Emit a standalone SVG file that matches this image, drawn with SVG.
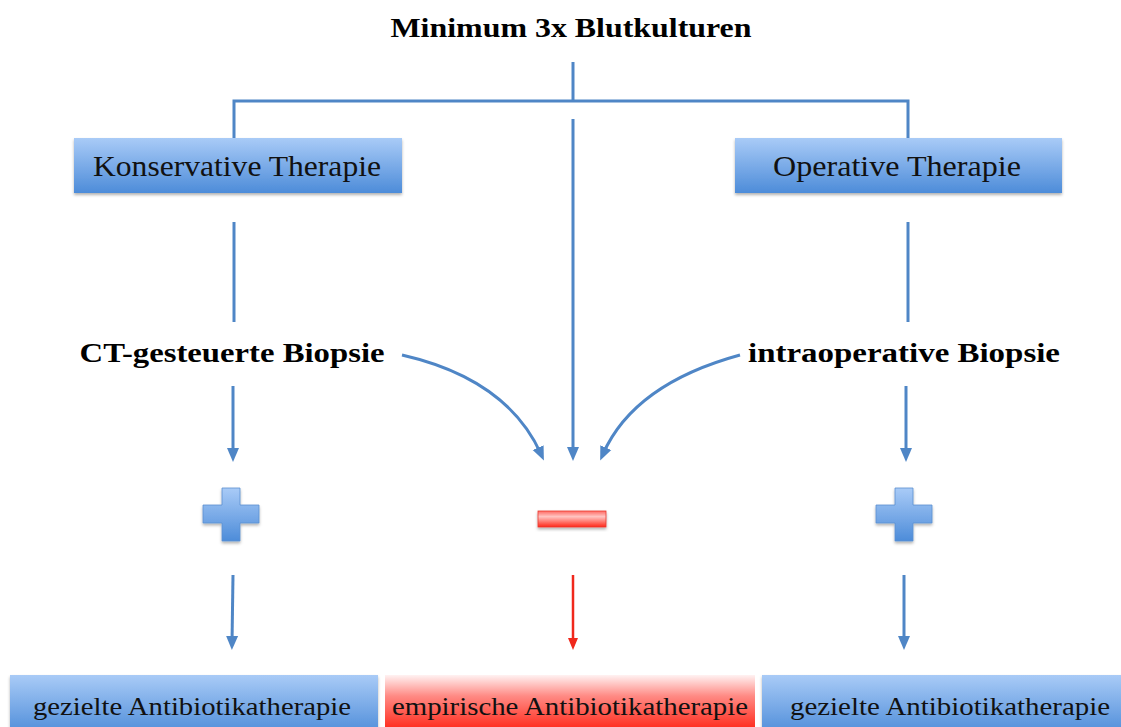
<svg xmlns="http://www.w3.org/2000/svg" width="1121" height="727" viewBox="0 0 1121 727">
<style>
.ln{fill:none;stroke:#4f86c6;stroke-width:3;}
.lr{fill:none;stroke:#f0281c;stroke-width:2.5;}
.bt{font-family:"Liberation Serif","DejaVu Serif",serif;fill:#111;}
.bold{font-family:"Liberation Serif","DejaVu Serif",serif;font-weight:bold;fill:#000;}
</style>
<defs>
<linearGradient id="gb" x1="0" y1="0" x2="0" y2="1">
<stop offset="0" stop-color="#a9cbf7"/>
<stop offset="1" stop-color="#4d8cd9"/>
</linearGradient>
<linearGradient id="gr" x1="0" y1="0" x2="0" y2="1">
<stop offset="0" stop-color="#fff2f2"/>
<stop offset="0.35" stop-color="#ff8a84"/>
<stop offset="1" stop-color="#ff1a0a"/>
</linearGradient>
<linearGradient id="gm" x1="0" y1="0" x2="0" y2="1">
<stop offset="0" stop-color="#ff6a64"/>
<stop offset="0.35" stop-color="#ffc4c2"/>
<stop offset="1" stop-color="#ff2818"/>
</linearGradient>
<filter id="sh" x="-10%" y="-10%" width="120%" height="140%">
<feDropShadow dx="0" dy="2" stdDeviation="1.5" flood-color="#000" flood-opacity="0.3"/>
</filter>
<marker id="ab" markerUnits="userSpaceOnUse" markerWidth="14" markerHeight="14" viewBox="0 0 14 14" refX="7" refY="7" orient="auto">
<path d="M0,1 L14,7 L0,13 Z" fill="#4f86c6"/>
</marker>
<marker id="ar" markerUnits="userSpaceOnUse" markerWidth="12" markerHeight="12" viewBox="0 0 12 12" refX="6" refY="6" orient="auto">
<path d="M0,1 L12,6 L0,11 Z" fill="#f0281c"/>
</marker>
</defs>
<rect width="1121" height="727" fill="#fff"/>

<g id="connectors">
<path class="ln" d="M573,62 V101"/>
<path class="ln" d="M234,138 V101 H908 V138"/>
<path class="ln" d="M573,119 V454" marker-end="url(#ab)"/>
<path class="ln" d="M234,222 V322"/>
<path class="ln" d="M908,222 V322"/>
<path class="ln" d="M233,386 V455" marker-end="url(#ab)"/>
<path class="ln" d="M906,386 V455" marker-end="url(#ab)"/>
<path class="ln" d="M402,355 Q507,379 541,454" marker-end="url(#ab)"/>
<path class="ln" d="M740,355 Q634,384 603,454" marker-end="url(#ab)"/>
<path class="ln" d="M233,575 L232,643" marker-end="url(#ab)"/>
<path class="ln" d="M904,575 L904,643" marker-end="url(#ab)"/>
<path class="lr" d="M573,575 V644" marker-end="url(#ar)"/>
</g>

<g id="n-title">
<text class="bold" x="571" y="37" font-size="27" text-anchor="middle" textLength="361" lengthAdjust="spacingAndGlyphs">Minimum 3x Blutkulturen</text>
</g>

<g id="n-konservativ">
<rect x="74" y="138" width="328" height="55" fill="url(#gb)" filter="url(#sh)"/>
<text class="bt" x="237" y="176" font-size="30" text-anchor="middle" textLength="288" lengthAdjust="spacingAndGlyphs">Konservative Therapie</text>
</g>

<g id="n-operativ">
<rect x="735" y="138" width="327" height="55" fill="url(#gb)" filter="url(#sh)"/>
<text class="bt" x="897" y="176" font-size="30" text-anchor="middle" textLength="248" lengthAdjust="spacingAndGlyphs">Operative Therapie</text>
</g>

<g id="n-ct">
<text class="bold" x="232" y="362" font-size="28" text-anchor="middle" textLength="305" lengthAdjust="spacingAndGlyphs">CT-gesteuerte Biopsie</text>
</g>

<g id="n-intraop">
<text class="bold" x="904" y="362" font-size="28" text-anchor="middle" textLength="312" lengthAdjust="spacingAndGlyphs">intraoperative Biopsie</text>
</g>

<g id="n-plus-left">
<path d="M222,488 H240 V505 H259 V523 H240 V541 H222 V523 H203 V505 H222 Z" fill="url(#gb)" stroke="#5a8fd0" stroke-width="0.8" filter="url(#sh)"/>
</g>

<g id="n-minus">
<rect x="538" y="511" width="68" height="16" fill="url(#gm)" stroke="#e83a30" stroke-width="0.8" filter="url(#sh)"/>
</g>

<g id="n-plus-right">
<path d="M895,488 H913 V505 H932 V523 H913 V541 H895 V523 H876 V505 H895 Z" fill="url(#gb)" stroke="#5a8fd0" stroke-width="0.8" filter="url(#sh)"/>
</g>

<g id="n-gezielt-left">
<rect x="10" y="675" width="368" height="60" fill="url(#gb)" filter="url(#sh)"/>
<text class="bt" x="192" y="715" font-size="26" text-anchor="middle" textLength="318" lengthAdjust="spacingAndGlyphs">gezielte Antibiotikatherapie</text>
</g>

<g id="n-empirisch">
<rect x="385" y="675" width="370" height="60" fill="url(#gr)"/>
<text class="bt" x="570" y="715" font-size="26" text-anchor="middle" textLength="356" lengthAdjust="spacingAndGlyphs">empirische Antibiotikatherapie</text>
</g>

<g id="n-gezielt-right">
<rect x="762" y="675" width="370" height="60" fill="url(#gb)" filter="url(#sh)"/>
<text class="bt" x="950" y="715" font-size="26" text-anchor="middle" textLength="320" lengthAdjust="spacingAndGlyphs">gezielte Antibiotikatherapie</text>
</g>
</svg>
